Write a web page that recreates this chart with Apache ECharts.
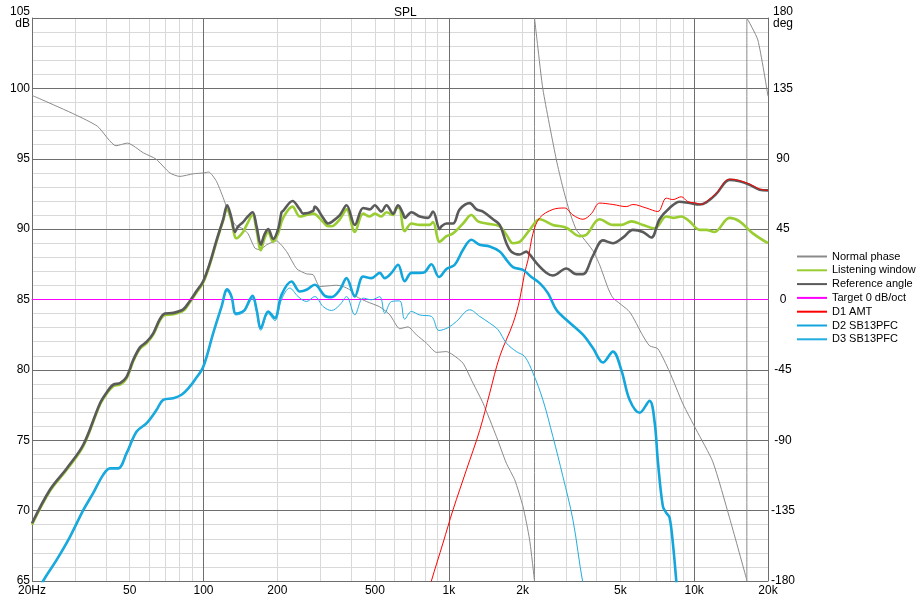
<!DOCTYPE html>
<html>
<head>
<meta charset="utf-8">
<script src="https://cdn.jsdelivr.net/npm/echarts@6/dist/echarts.min.js"></script>
<style>html,body{margin:0;padding:0;background:#fff}#c{width:918px;height:600px}</style>
</head>
<body>
<div id="c"></div>
<script>
// ---- data (frequency Hz, value) ----
const xTickLabels = [20, 50, 100, 200, 500, 1000, 2000, 5000, 10000, 20000];
const xMinorGrid = [20,30,40,50,60,70,80,90,100,200,300,400,500,600,700,800,900,1000,2000,3000,4000,5000,6000,7000,8000,9000,10000,20000];
const xMajorGrid = [100, 1000, 10000];

const normalPhase = [[20,130.5],[22,127.7],[30,118.2],[37,110.7],[44,98.3],[49,100.0],[57,93.7],[64,89.8],[73,80.9],[80,78.7],[91,80.4],[100,80.9],[105,81.5],[113,75.5],[122,62.5],[128,53.1],[136,47.1],[145,45.2],[152,42.0],[162,32.9],[170,31.8],[181,35.0],[198,37.5],[218,30.7],[240,19.6],[263,16.4],[280,15.8],[298,8.3],[349,9.1],[371,8.3],[395,6.2],[420,1.9],[462,-1.3],[523,-4.7],[575,-9.8],[631,-18.7],[682,-17.5],[738,-22.6],[811,-27.9],[890,-33.8],[978,-33.3],[1040,-35.4],[1142,-40.7],[1255,-53.5],[1379,-66.3],[1563,-87.6],[1716,-104.7],[1856,-115.3],[2006,-132.4],[2135,-153.7],[2235,-180],[2235,180],[2300,162.9],[2420,134.1],[2743,89.4],[2918,71.5],[3108,56.1],[3309,44.6],[3520,39.5],[3867,31.2],[4118,22.2],[4451,7.5],[4665,1.1],[5455,-7.9],[6181,-23.2],[6581,-29.6],[7115,-31.5],[7940,-46.3],[8997,-66.7],[10198,-83.3],[11918,-103.8],[13939,-139.6],[16303,-178],[16400,-180],[16400,180],[18175,166],[20000,130]];

const listeningWindow = [[20,69.0],[23.7,71.4],[27.7,72.9],[32.4,74.6],[37.8,77.5],[40.3,78.3],[42.9,78.85],[45.7,78.95],[48.6,79.4],[51.7,80.6],[55.1,81.5],[58.7,81.9],[62.4,82.5],[66.4,83.5],[69.6,83.9],[75.3,83.95],[82.7,84.2],[88.0,84.8],[93.7,85.5],[99.7,86.2],[106.2,87.5],[113,89.1],[120.3,90.6],[124.9,91.5],[130,90.6],[136.4,89.35],[145,89.8],[150,90.3],[158.5,91.0],[164.6,89.9],[171.3,88.5],[177,89.3],[183.5,89.8],[192.3,89.1],[201.5,89.7],[211.2,90.8],[230.6,91.6],[247,90.9],[263,91.0],[280,91.1],[307.4,90.5],[322,90.2],[332.5,90.2],[359.5,90.7],[382.9,91.4],[413.8,89.8],[447.4,91.1],[476.5,90.9],[499,91.1],[531,90.9],[557,91.2],[593,91.0],[612,91.5],[627,91.5],[661,89.85],[704,90.4],[761,90.3],[836,90.3],[862,90.5],[918,89.1],[978,89.5],[1040,89.7],[1143,90.4],[1236,91.0],[1315,90.55],[1423,90.4],[1612,90.2],[1717,89.6],[1826,89.0],[1945,89.1],[2136,89.95],[2346,90.7],[2656,90.3],[3013,90.1],[3415,89.5],[3636,89.6],[4118,90.7],[4665,90.3],[5047,90.3],[5543,90.55],[6181,90.3],[6900,90.05],[7700,90.9],[8190,90.8],[8862,90.9],[9578,90.55],[10520,89.95],[11204,89.95],[12108,89.8],[13936,90.8],[15312,90.55],[17350,89.7],[20000,89.0]];

const referenceAngle = [[20,69.1],[23.7,71.5],[27.7,73.0],[32.4,74.7],[37.8,77.6],[40.3,78.4],[42.9,78.95],[45.7,79.05],[48.6,79.5],[51.7,80.7],[55.1,81.6],[58.7,82.0],[62.4,82.6],[66.4,83.6],[69.6,84.0],[75.3,84.05],[82.7,84.3],[88.0,84.9],[93.7,85.6],[99.7,86.3],[106.2,87.6],[113,89.2],[120.3,90.7],[124.9,91.7],[130,90.8],[134.3,89.8],[138.5,90.2],[145,90.5],[149.8,90.8],[158.5,91.2],[164.6,90.2],[171.3,88.9],[177,89.6],[183.5,90.0],[192.3,89.3],[201.5,90.0],[208,91.2],[211.2,91.3],[230.6,92.0],[247,91.4],[254.8,91.1],[279.8,91.3],[284.3,91.6],[307.4,90.8],[322,90.4],[332.5,90.5],[359.5,91.0],[382.9,91.7],[413.8,90.3],[447.4,91.5],[476.5,91.4],[499,91.7],[531,91.25],[557,91.7],[593,91.1],[621,91.7],[651,91.1],[661,90.8],[704,91.2],[761,90.9],[823,90.8],[862,91.25],[918,90.0],[933,90.2],[978,90.4],[1040,90.4],[1108,91.4],[1217,91.85],[1296,91.4],[1378,91.25],[1514,90.7],[1612,90.3],[1717,89.0],[1799,88.4],[1945,88.2],[2070,88.4],[2136,88.2],[2274,87.6],[2497,86.9],[2656,86.7],[3013,87.2],[3309,86.8],[3521,86.8],[3867,88.1],[4248,89.2],[4665,89.0],[5124,89.4],[5628,89.95],[6181,89.8],[6688,89.4],[7228,90.7],[7941,91.5],[8722,91.95],[9578,91.85],[10520,91.75],[11204,91.9],[12304,92.5],[13936,93.5],[15312,93.4],[16818,93.15],[18470,92.8],[20000,92.75]];

const target = [[20,85],[20000,85]];

const d1Amt = [[820,64.0],[849,65.0],[947,67.7],[1040,70.05],[1180,72.9],[1336,75.7],[1468,78.35],[1612,80.95],[1826,83.3],[1945,85.0],[2038,86.9],[2102,87.8],[2204,89.7],[2346,90.8],[2656,91.4],[2966,91.5],[3206,91.0],[3521,90.7],[3810,91.1],[4118,91.85],[4665,91.75],[5289,91.6],[5628,91.75],[6381,91.5],[7115,91.25],[7700,92.2],[8190,92.1],[8862,92.3],[9428,91.95],[10200,91.85],[10690,91.75],[11204,91.95],[12304,92.55],[13936,93.55],[15312,93.45],[16818,93.2],[18470,92.85],[20000,92.75]];

const d2Sb13 = [[21.5,64.4],[22.2,65.0],[25.2,66.5],[28.6,68.16],[32.4,70.05],[35.5,71.24],[39.0,72.54],[41.6,73.0],[44.9,73.0],[48.6,74.08],[53.4,75.62],[58.7,76.22],[64.4,77.16],[68.5,77.87],[75.3,77.99],[81.4,78.23],[88.0,78.82],[92.3,79.3],[99.7,80.2],[109.5,82.6],[118.5,84.5],[124.9,85.72],[130.1,85.2],[135.5,84.0],[143,84.1],[147.5,84.27],[158.5,85.26],[164.6,84.27],[171.3,82.97],[183.5,84.15],[195.4,83.68],[208,85.33],[228.4,86.28],[247,85.57],[263,85.69],[284.3,86.05],[312.4,85.26],[332.5,85.17],[359.5,85.69],[382.9,86.52],[413.8,85.21],[447.4,86.63],[484,86.52],[523,86.89],[548,86.52],[584,86.89],[621,87.47],[661,86.3],[704,86.89],[761,86.89],[798,86.95],[849,87.5],[912,86.6],[978,87.16],[1057,87.47],[1143,88.53],[1236,89.24],[1336,88.89],[1468,88.77],[1612,88.41],[1717,87.82],[1826,87.3],[2006,87.1],[2170,86.6],[2346,86.16],[2535,85.45],[2743,84.27],[3013,83.56],[3521,82.5],[3867,81.55],[4248,80.52],[4665,81.3],[5047,80.0],[5455,77.87],[5992,76.95],[6581,77.8],[6900,76.3],[7115,73.5],[7457,70.3],[7700,69.84],[7941,69.5],[8190,67.69],[8457,65.0],[8700,62.5]];

const d3Sb13 = [[21.5,64.4],[22.2,65.0],[25.2,66.5],[28.6,68.16],[32.4,70.05],[35.5,71.24],[39.0,72.54],[41.6,73.0],[44.9,73.0],[48.6,74.08],[53.4,75.62],[58.7,76.22],[64.4,77.16],[68.5,77.87],[75.3,77.99],[81.4,78.23],[88.0,78.82],[92.3,79.3],[99.7,80.2],[109.5,82.6],[118.5,84.5],[124.9,85.6],[130.1,85.1],[135.5,83.9],[143,84.0],[147.5,84.2],[158.5,85.1],[164.6,84.1],[171.3,82.8],[183.5,84.0],[195.4,83.5],[208,85.0],[224.8,85.81],[243,85.21],[263,84.86],[284.3,85.21],[307.4,84.5],[332.5,84.22],[359.5,84.62],[382.9,85.21],[413.8,83.91],[447.4,85.1],[484,84.98],[523,85.2],[548,84.03],[584,84.86],[631,84.9],[661,83.6],[704,84.15],[761,83.9],[849,83.8],[912,82.8],[993,83.0],[1074,83.44],[1217,84.27],[1336,83.8],[1468,83.32],[1587,82.85],[1717,81.9],[1885,81.3],[2038,80.95],[2204,79.77],[2418,77.87],[2656,75.26],[2918,72.42],[3206,69.34],[3521,64.84],[3700,63.5]];

// ---- chart ----
const FONT = 'Liberation Sans';
const MAJOR = '#6e6e6e';
const MINOR = '#d9d9d9';
const chart = echarts.init(document.getElementById('c'), null, {renderer: 'canvas'});

function fmtHz(v) {
  if (v === 20) return '20Hz';
  if (v >= 1000) return (v / 1000) + 'k';
  return String(v);
}

function line(name, data, color, width, yIdx, z, smooth) {
  return {
    name, type: 'line', data, xAxisIndex: 0, yAxisIndex: yIdx,
    showSymbol: false, symbol: 'none', smooth: smooth, clip: true, z: z,
    lineStyle: {color, width}, itemStyle: {color}, emphasis: {disabled: true}
  };
}

const option = {
  animation: false,
  backgroundColor: '#ffffff',
  textStyle: {fontFamily: FONT},
  title: {
    text: 'SPL', left: 389, top: 2,
    textStyle: {fontSize: 12, fontWeight: 'normal', color: '#000', fontFamily: FONT}
  },
  legend: {
    orient: 'vertical', left: 791, top: 246, itemWidth: 30, itemHeight: 12, itemGap: 2.8,
    itemStyle: {opacity: 0},
    textStyle: {fontSize: 11, color: '#000', fontFamily: FONT},
    data: ['Normal phase', 'Listening window', 'Reference angle', 'Target 0 dB/oct', 'D1 AMT', 'D2 SB13PFC', 'D3 SB13PFC']
  },
  grid: {left: 32, right: 150, top: 18, bottom: 19, containLabel: false},
  xAxis: [
    {
      type: 'log', logBase: 10, min: 20, max: 20000, z: 0,
      axisLine: {show: true, lineStyle: {color: MAJOR, width: 1}},
      axisTick: {show: false, customValues: xMinorGrid},
      axisLabel: {
        customValues: xTickLabels, formatter: fmtHz, color: '#000', fontSize: 12, margin: 4, fontFamily: FONT,
        showMinLabel: true, showMaxLabel: true, hideOverlap: false
      },
      splitLine: {show: true, lineStyle: {color: MINOR, width: 1}}
    },
    {
      type: 'log', logBase: 10, min: 20, max: 20000, z: 1,
      axisLine: {show: false}, axisTick: {show: false, customValues: xMajorGrid},
      axisLabel: {show: false},
      splitLine: {show: true, lineStyle: {color: MAJOR, width: 1}}
    }
  ],
  yAxis: [
    {
      type: 'value', position: 'left', min: 65, max: 105, interval: 5, z: 1,
      axisLine: {show: true, lineStyle: {color: MAJOR}}, axisTick: {show: false},
      axisLabel: {
        color: '#000', fontSize: 12, margin: 2, fontFamily: FONT, lineHeight: 12,
        formatter: v => v === 105 ? '105\ndB' : String(v)
      },
      splitLine: {show: true, lineStyle: {color: MAJOR, width: 1}}
    },
    {
      type: 'value', position: 'left', min: 65, max: 105, interval: 1, z: 0,
      axisLine: {show: false}, axisTick: {show: false}, axisLabel: {show: false},
      splitLine: {show: true, lineStyle: {color: MINOR, width: 1}}
    },
    {
      type: 'value', position: 'right', min: -180, max: 180, interval: 45, z: 1,
      axisLine: {show: true, lineStyle: {color: MAJOR}}, axisTick: {show: false},
      axisLabel: {
        color: '#000', fontSize: 12, margin: 15, align: 'center', fontFamily: FONT, lineHeight: 12,
        formatter: v => v === 180 ? '180\ndeg' : String(v)
      },
      splitLine: {show: false}
    }
  ],
  series: [
    line('Normal phase', normalPhase, '#8a8a8a', 1, 2, 2, 0.2),
    line('Listening window', listeningWindow, '#9acd32', 2.6, 0, 3, 0.35),
    line('Reference angle', referenceAngle, '#5a5a5a', 2.6, 0, 4, 0.35),
    line('Target 0 dB/oct', target, '#ff00ff', 1, 0, 5, false),
    line('D1 AMT', d1Amt, '#ff0000', 1, 0, 6, 0.35),
    line('D2 SB13PFC', d2Sb13, '#12a6dc', 2.6, 0, 7, 0.35),
    line('D3 SB13PFC', d3Sb13, '#22ade0', 1, 0, 8, 0.35)
  ]
};
chart.setOption(option);
</script>
</body>
</html>
